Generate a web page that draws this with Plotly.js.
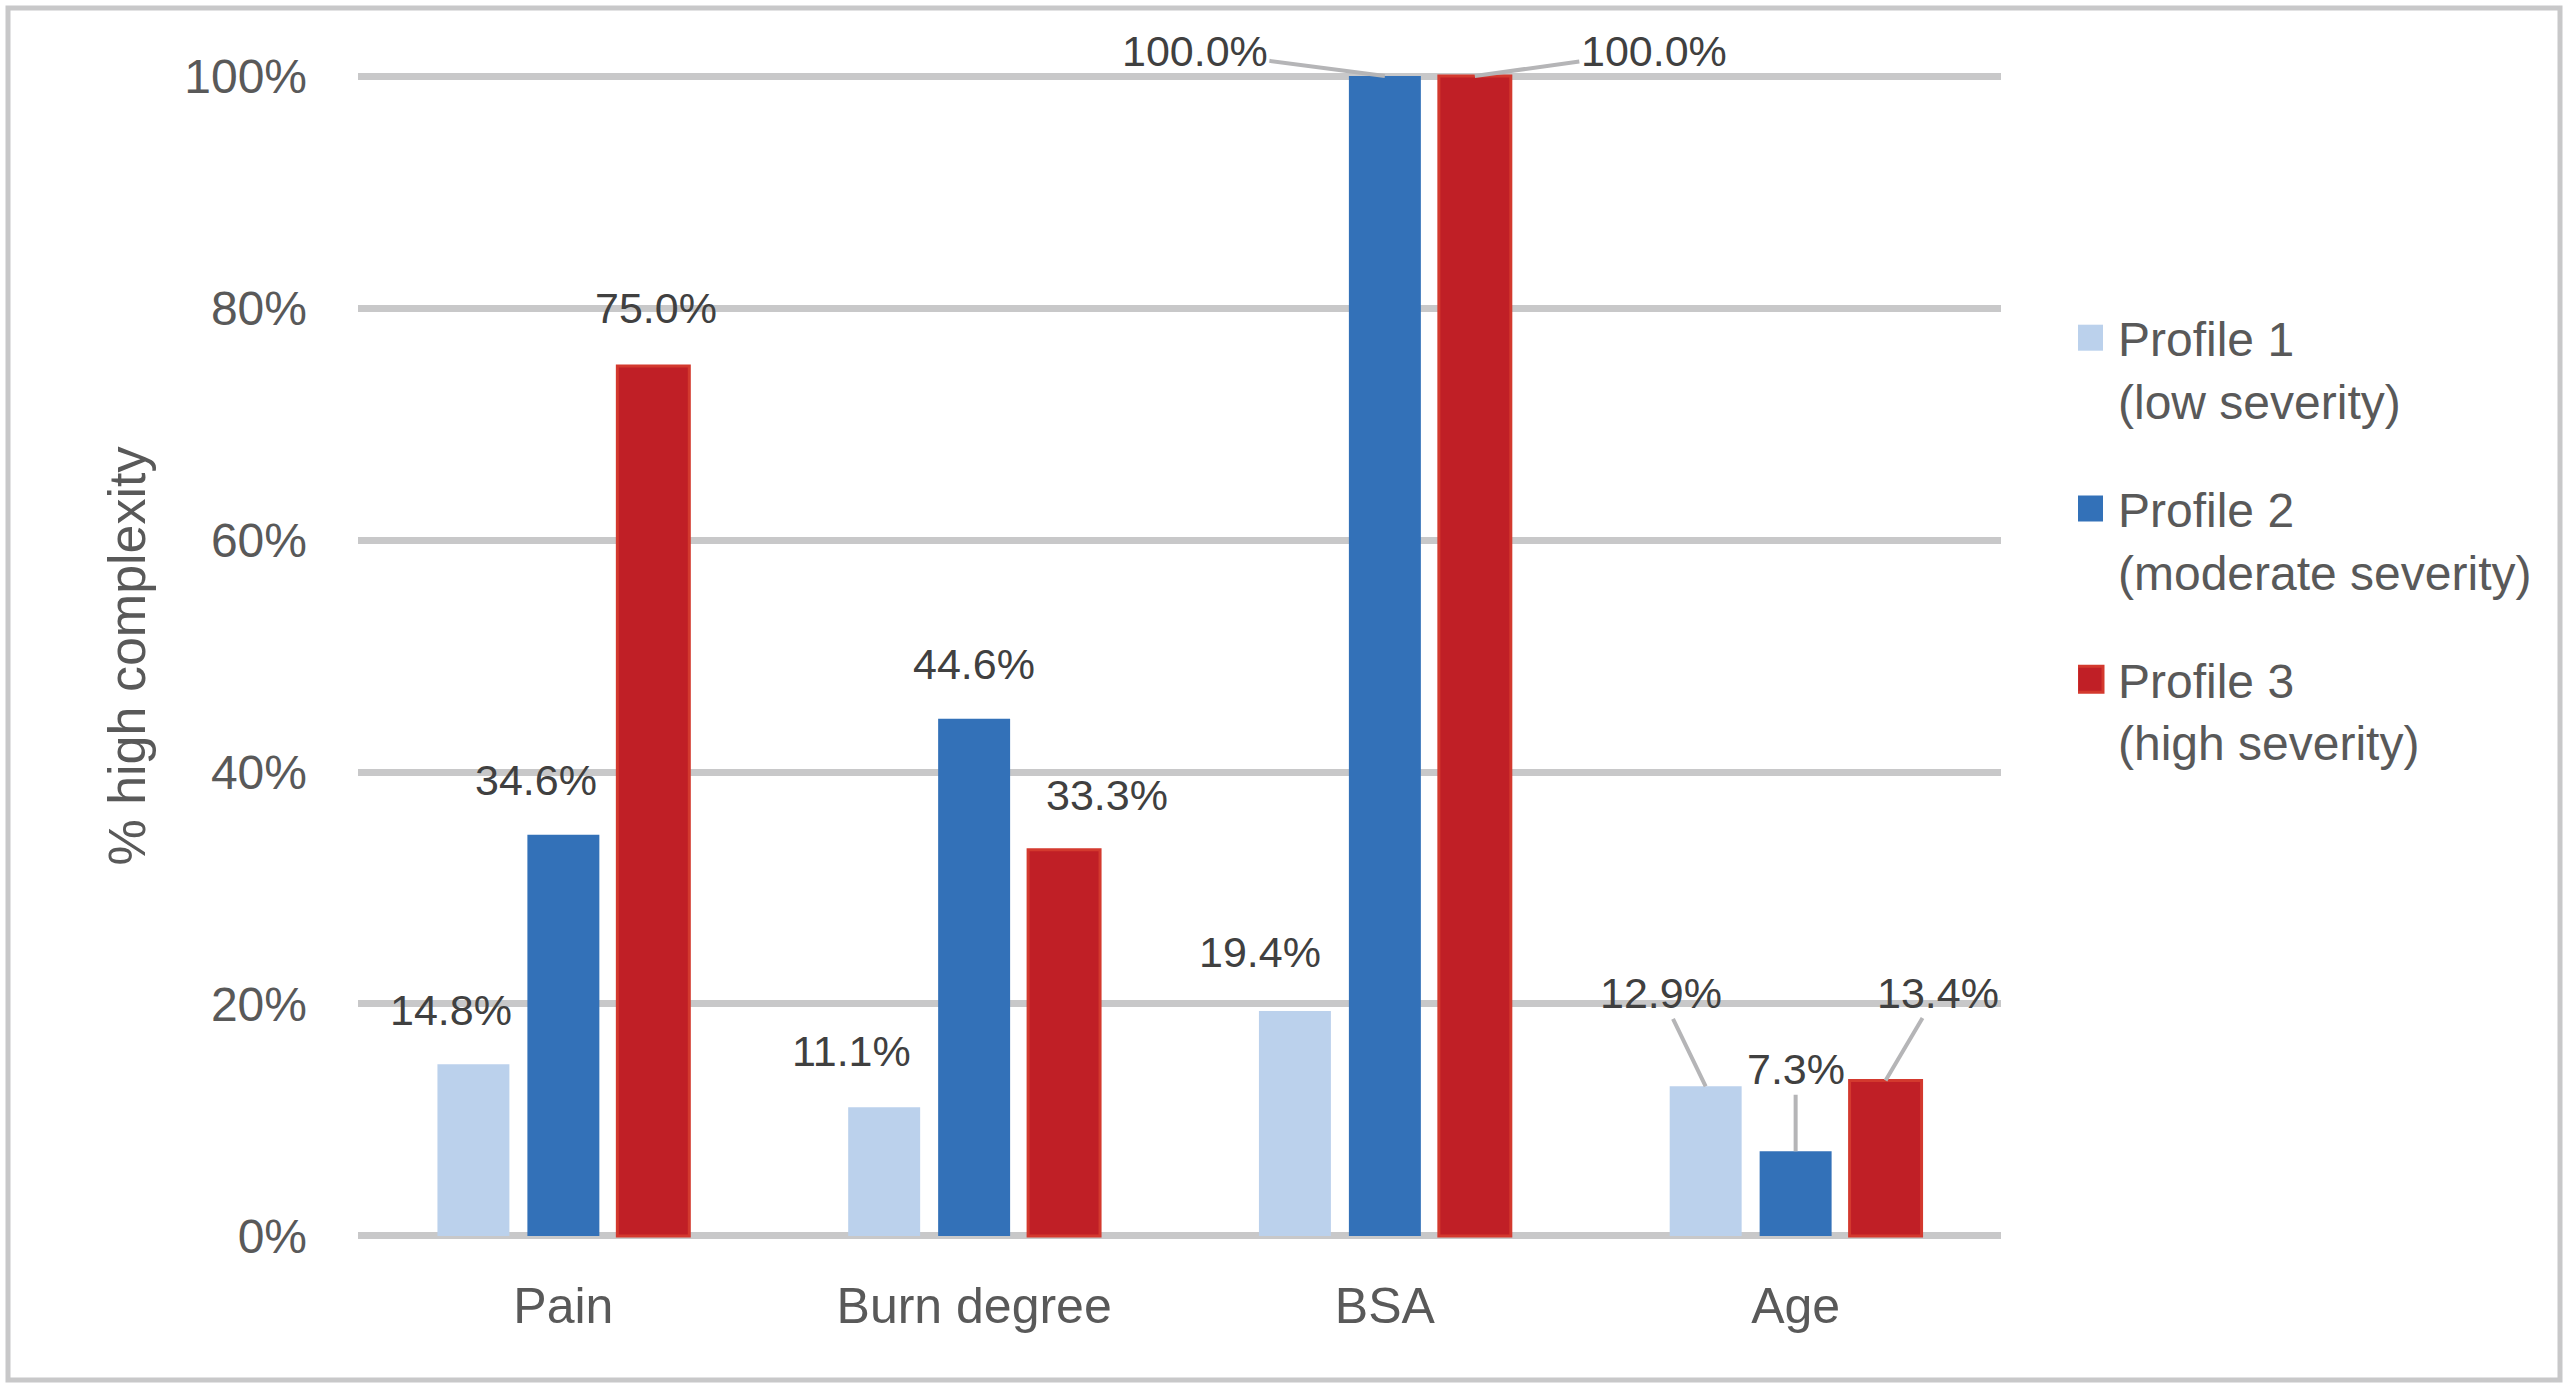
<!DOCTYPE html>
<html>
<head>
<meta charset="utf-8">
<script src="https://cdn.plot.ly/plotly-3.0.1.min.js"></script>
<style>
  body { margin: 0; background: #fff; }
</style>
</head>
<body>
<div id="chart"></div>
<script>
// data (% high complexity)
const categories = ['Pain', 'Burn degree', 'BSA', 'Age'];
const profile1 = [14.8, 11.1, 19.4, 12.9];
const profile2 = [34.6, 44.6, 100.0, 7.3];
const profile3 = [75.0, 33.3, 100.0, 13.4];
const seriesNames = [
  'Profile 1<br>(low severity)',
  'Profile 2<br>(moderate severity)',
  'Profile 3<br>(high severity)',
];
const yTicks = [0, 20, 40, 60, 80, 100];

// label placement (px from bar top), Excel moved some of them by hand
const labelDx = [[-22, -33, -35, -45], [-27, 0, -190, 0], [3, 43, 179, 52]];
const labelDy = [[-54, -56, -59, -93], [-55, -55, -25, -82], [-58, -55, -25, -88]];
const leader = [[0, 0, 0, 1], [0, 0, 1, 1], [0, 0, 1, 1]];

const W = 2572, H = 1389;
// plot area padded 3px past 0% and 100% so both gridlines show in full
const margin = { l: 358, r: 571, t: 73, b: 150 };
const yPad = 0.26;
const bargap = 0.343;
const font = 'Liberation Sans, Arial, sans-serif';
const grey = '#595959';
const lineGrey = '#C8C8C9';

const values = [profile1, profile2, profile3];
const fills = ['#BBD1EC', '#3371B8', '#C01F26'];
const edges = ['#BBD1EC', '#3371B8', '#D3392E'];
const edgeW = [0, 0, 3];

const traces = values.map((v, j) => ({
  type: 'bar',
  x: categories,
  y: v,
  name: seriesNames[j],
  legendgroup: 'g' + j,
  marker: { color: fills[j], line: { color: edges[j], width: edgeW[j] } },
  cliponaxis: false,
  hoverinfo: 'skip',
}));

// x offset of each series inside a group, in category units
const slot = (1 - bargap) / 3;
const annotations = [];
values.forEach((v, j) => {
  v.forEach((val, i) => {
    annotations.push({
      xref: 'x', yref: 'y',
      x: i + (j - 1) * slot,
      y: val,
      text: val.toFixed(1) + '%',
      showarrow: true,
      arrowhead: 0,
      arrowwidth: 4,
      arrowcolor: leader[j][i] ? '#B5B5B7' : 'rgba(0,0,0,0)',
      ax: labelDx[j][i],
      ay: labelDy[j][i],
      font: { family: font, size: 43, color: '#404040' },
    });
  });
});

const plotW = W - margin.l - margin.r;
const plotH = H - margin.t - margin.b;
const px = (p) => (p - margin.l) / plotW;
const py = (p) => (H - margin.b - p) / plotH;

const layout = {
  width: W,
  height: H,
  margin: margin,
  paper_bgcolor: '#fff',
  plot_bgcolor: '#fff',
  barmode: 'group',
  bargap: bargap,
  bargroupgap: 0.2,
  font: { family: font, color: grey },
  xaxis: {
    type: 'category',
    showgrid: false,
    showline: false,
    zeroline: false,
    ticks: '',
    ticklabelstandoff: 33,
    tickfont: { size: 50, color: grey },
  },
  yaxis: {
    range: [-yPad, 100 + yPad],
    tickvals: yTicks,
    ticktext: yTicks.map((t) => t + '%'),
    showgrid: true,
    gridcolor: lineGrey,
    gridwidth: 7,
    zeroline: false,
    showline: false,
    ticks: '',
    ticklabelstandoff: 50,
    tickfont: { size: 48, color: grey },
    title: {
      text: '% high complexity',
      font: { size: 52, color: grey },
      standoff: 22,
    },
  },
  legend: {
    x: px(2078),
    xanchor: 'left',
    y: py(300),
    yanchor: 'top',
    valign: 'top',
    tracegroupgap: 43,
    bgcolor: 'rgba(0,0,0,0)',
    font: { size: 48, color: grey },
  },
  annotations: annotations,
  shapes: [{
    type: 'rect',
    xref: 'paper', yref: 'paper',
    x0: px(8), x1: px(2560),
    y0: py(1380), y1: py(8),
    line: { color: lineGrey, width: 5 },
  }],
};

Plotly.newPlot('chart', traces, layout, { staticPlot: true }).then(() => {
  // Excel legend keys are bigger than plotly's default bar swatch,
  // and sit a bit further from the text
  document.querySelectorAll('.legend .legendpoints path').forEach((p) => {
    p.setAttribute('d', 'M5,13H-21V-13H5Z');
  });
});
</script>
</body>
</html>
